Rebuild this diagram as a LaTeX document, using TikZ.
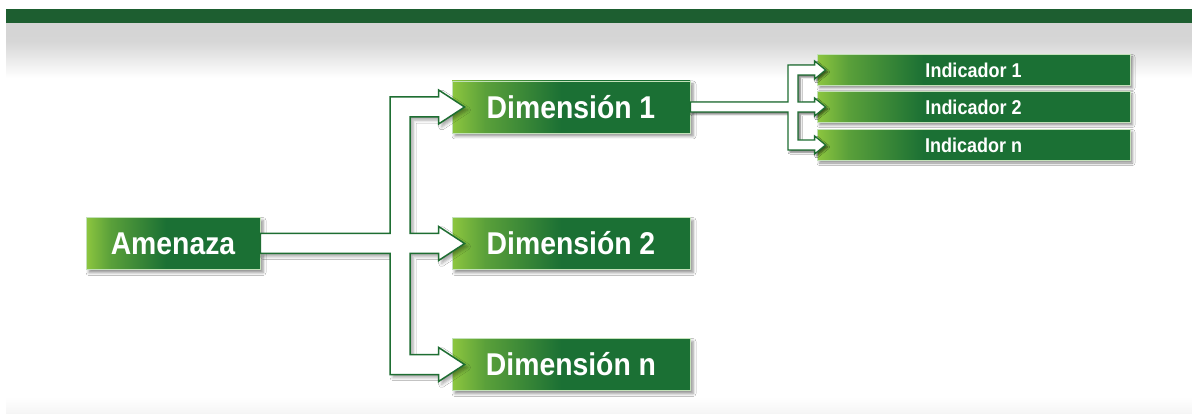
\documentclass[tikz,border=0pt]{standalone}
\usepackage{fontspec}
\setmainfont{Liberation Sans}
\newfontfamily\condfont[FakeStretch=0.9]{Liberation Sans}
\usetikzlibrary{calc,shadows.blur}
\definecolor{lgreen}{RGB}{141,198,63}
\definecolor{mgreen}{RGB}{90,160,58}
\definecolor{dgreen}{RGB}{27,112,52}
\definecolor{topgreen}{RGB}{29,94,48}
\definecolor{linegreen}{RGB}{30,110,50}
\definecolor{edgegreen}{RGB}{195,225,185}
\pgfdeclarehorizontalshading{bigshade}{100bp}{color(0bp)=(lgreen); color(25bp)=(lgreen); color(32bp)=(mgreen); color(48bp)=(dgreen); color(100bp)=(dgreen)}
\pgfdeclarehorizontalshading{smallshade}{100bp}{color(0bp)=(lgreen); color(25bp)=(lgreen); color(30bp)=(mgreen); color(42bp)=(dgreen); color(100bp)=(dgreen)}
\pgfdeclareverticalshading{hdrshade}{100bp}{color(0bp)=(white); color(25bp)=(white); color(58bp)=(black!16); color(75bp)=(black!17); color(100bp)=(black!17)}
\pgfdeclareverticalshading{ftrshade}{100bp}{color(0bp)=(black!4); color(25bp)=(black!4); color(75bp)=(white); color(100bp)=(white)}
\newcommand\headbig[1]{($(#1.west)+(-13,-10)$) -- ($(#1.west)+(-13,-17)$) -- ($(#1.west)+(13,0)$) -- ($(#1.west)+(-13,17)$) -- ($(#1.west)+(-13,10)$)}
\newcommand\headsmall[1]{($(#1.west)+(-2,-5)$) -- ($(#1.west)+(-2,-9)$) -- ($(#1.west)+(9,0)$) -- ($(#1.west)+(-2,9)$) -- ($(#1.west)+(-2,5)$)}
\tikzset{
  bigbox/.style={rectangle, shading=bigshade, draw=edgegreen, line width=0.8pt,
    text=white, font=\condfont\bfseries\fontsize{31.5}{36}\selectfont,
    minimum height=52pt, inner sep=0pt,
    blur shadow={shadow xshift=3pt, shadow yshift=-3pt, shadow blur radius=3pt, shadow opacity=45}},
  smallbox/.style={rectangle, shading=smallshade, draw=edgegreen, line width=0.8pt,
    text=white, font=\condfont\bfseries\fontsize{20}{23}\selectfont,
    minimum width=313pt, minimum height=31pt, inner sep=0pt,
    blur shadow={shadow xshift=2.5pt, shadow yshift=-2.5pt, shadow blur radius=2.5pt, shadow opacity=45}},
  arrowshape/.style={draw=linegreen, fill=white, line width=1.5pt, line join=miter,
    blur shadow={shadow xshift=3pt, shadow yshift=-3pt, shadow blur radius=3pt, shadow opacity=35}}
}
\begin{document}
\begin{tikzpicture}[x=1pt,y=-1pt]
\useasboundingbox (0,0) rectangle (1192,414);
\fill[white] (0,0) rectangle (1192,414);
% header
\shade[shading=hdrshade] (6,23) rectangle (1192,78);
\fill[topgreen] (6,9) rectangle (1192,23);
% footer
\shade[shading=ftrshade] (6,397) rectangle (1192,414);
% boxes
\node[bigbox, minimum width=174pt] (am) at (173,243.5) {Amenaza};
\node[bigbox, minimum width=238pt] (d1) at (571,107) {Dimensión 1};
\node[bigbox, minimum width=238pt] (d2) at (571,243.5) {Dimensión 2};
\node[bigbox, minimum width=238pt] (dn) at (571,364.5) {Dimensión n};
\node[smallbox] (i1) at (973.5,70) {Indicador 1};
\node[smallbox] (i2) at (973.5,107) {Indicador 2};
\node[smallbox] (i3) at (973.5,145) {Indicador n};
% trunk positions
\coordinate (xo) at (390,0);
\coordinate (xi) at (410,0);
\coordinate (yo) at (788,0);
\coordinate (yi) at (798,0);
% main branching arrow
\path[arrowshape]
  ($(am.east)+(0,-10)$) -- ($(xo |- am.east)+(0,-10)$) -- ($(xo |- d1.west)+(0,-10)$) --
  \headbig{d1} --
  ($(xi |- d1.west)+(0,10)$) -- ($(xi |- d2.west)+(0,-10)$) --
  \headbig{d2} --
  ($(xi |- d2.west)+(0,10)$) -- ($(xi |- dn.west)+(0,-10)$) --
  \headbig{dn} --
  ($(xo |- dn.west)+(0,10)$) -- ($(xo |- am.east)+(0,10)$) -- ($(am.east)+(0,10)$) -- cycle;
% indicator branching arrow
\path[arrowshape, line width=1.3pt, blur shadow={shadow xshift=2pt, shadow yshift=-2pt, shadow blur radius=2pt, shadow opacity=35}]
  ($(d1.east)+(0,-5)$) -- ($(yo |- d1.east)+(0,-5)$) -- ($(yo |- i1.west)+(0,-5)$) --
  \headsmall{i1} --
  ($(yi |- i1.west)+(0,5)$) -- ($(yi |- i2.west)+(0,-5)$) --
  \headsmall{i2} --
  ($(yi |- i2.west)+(0,5)$) -- ($(yi |- i3.west)+(0,-5)$) --
  \headsmall{i3} --
  ($(yo |- i3.west)+(0,5)$) -- ($(yo |- d1.east)+(0,5)$) -- ($(d1.east)+(0,5)$) -- cycle;
\end{tikzpicture}
\end{document}
